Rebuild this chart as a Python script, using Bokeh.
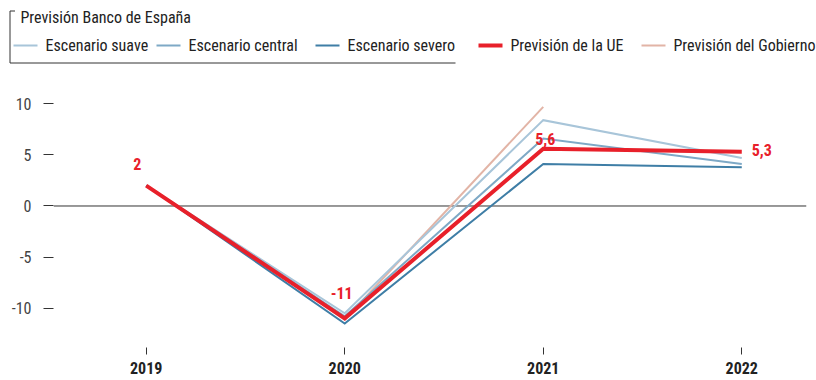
from bokeh.plotting import figure
from bokeh.layouts import column
from bokeh.models import Range1d, FixedTicker, Span, ColumnDataSource
from bokeh.core.properties import value
from bokeh.embed import file_html
from bokeh.resources import INLINE

# ---- data ----
years = [2019, 2020, 2021, 2022]
suave = [2, -10.5, 8.4, 4.7]
central = [2, -10.8, 6.6, 4.1]
severo = [2, -11.5, 4.1, 3.8]
ue = [2, -11, 5.6, 5.3]
gob_years = [2020, 2021]
gobierno = [-11.1, 9.7]
y_ticks = [-10, -5, 0, 5, 10]
x_ticks = [2019, 2020, 2021, 2022]
group_title = "Previsión Banco de España"
series_names = ["Escenario suave", "Escenario central", "Escenario severo",
                "Previsión de la UE", "Previsión del Gobierno"]

# ---- style ----
FONT = "'Liberation Sans Narrow', 'Roboto Condensed', Roboto, sans-serif"
C_SUAVE = "#a8c5d9"
C_CENTRAL = "#7ea9c6"
C_SEVERO = "#3f7ea6"
C_UE = "#e8202a"
C_GOB = "#e2b4a6"
TXT = "#222222"

W = 816
LEG_H = 70
CH_H = 380 - LEG_H

# ---------------- legend strip (pixel space) ----------------
leg = figure(width=W, height=LEG_H, x_range=Range1d(0, W), y_range=Range1d(LEG_H, 0),
             output_backend="svg", toolbar_location=None,
             min_border_left=0, min_border_right=0, min_border_top=0, min_border_bottom=0,
             x_axis_location=None, y_axis_location=None)
leg.frame_align = False
leg.outline_line_color = None
leg.xgrid.visible = False
leg.ygrid.visible = False

# bracket around the Banco de España group
leg.segment(x0=[9.5, 9.5, 9.5], y0=[10.5, 10.5, 62.5], x1=[9.5, 14.5, 455],
            y1=[62.5, 10.5, 62.5], line_color="#333333", line_width=1)
leg.text(x=[20], y=[17], text=[group_title], text_font=value(FONT),
         text_font_size="16px", text_color=TXT, text_baseline="middle",
         text_align="left")

item_x = [13, 156, 315, 478, 641]
item_colors = [C_SUAVE, C_CENTRAL, C_SEVERO, C_UE, C_GOB]
item_widths = [2, 2, 2, 4, 2]
leg.segment(x0=item_x, y0=[45] * 5, x1=[x + 24 for x in item_x], y1=[45] * 5,
            line_color=item_colors, line_width=item_widths)
leg.text(x=[x + 32 for x in item_x], y=[45] * 5, text=series_names,
         text_font=value(FONT), text_font_size="16px", text_color=TXT,
         text_baseline="middle", text_align="left")

# ---------------- chart ----------------
FL, FR, FB = 53, 806, 277   # frame edges inside the chart figure
p = figure(width=W, height=CH_H, x_range=Range1d(2018.533, 2022.326),
           y_range=Range1d(-13.85, 13.26), output_backend="svg",
           toolbar_location=None, min_border_left=FL, min_border_right=W - FR,
           min_border_top=0, min_border_bottom=CH_H - FB)
p.frame_align = False
p.outline_line_color = None
p.xgrid.visible = False
p.ygrid.visible = False

p.yaxis.ticker = FixedTicker(ticks=y_ticks)
p.yaxis.major_label_overrides = {t: str(t) for t in y_ticks}
p.xaxis.ticker = FixedTicker(ticks=x_ticks)
for ax in (p.xaxis, p.yaxis):
    ax.axis_line_color = None
    ax.minor_tick_line_color = None
    ax.major_tick_line_color = "#333333"
    ax.major_tick_in = 0
    ax.major_label_text_font = FONT
    ax.major_label_text_font_size = "16px"
p.yaxis.major_tick_out = 10
p.yaxis.major_label_standoff = 12
p.yaxis.major_label_text_color = "#444444"
p.xaxis.major_tick_out = 7
p.xaxis.major_label_standoff = 7
p.xaxis.major_label_text_color = TXT
p.xaxis.major_label_text_font_style = "bold"

p.add_layout(Span(location=0, dimension="width", line_color="#333333",
                  line_width=1, level="underlay"))

p.line(gob_years, gobierno, line_color=C_GOB, line_width=2, line_join="miter")
p.line(years, suave, line_color=C_SUAVE, line_width=2, line_join="miter")
p.line(years, central, line_color=C_CENTRAL, line_width=2, line_join="miter")
p.line(years, severo, line_color=C_SEVERO, line_width=2, line_join="miter")
p.line(years, ue, line_color=C_UE, line_width=4, line_join="miter")

lab_src = ColumnDataSource(dict(
    x=years, y=ue,
    t=[f"{v:g}".replace(".", ",") for v in ue],
    dx=[-9, -3, 2, 20], dy=[-22, -25, -10, -2],
))
p.text(x="x", y="y", text="t", x_offset="dx", y_offset="dy", source=lab_src,
       text_align="center", text_baseline="middle", text_color=C_UE,
       text_font=value(FONT), text_font_size="16px", text_font_style="bold")

layout = column(leg, p, spacing=0)
open("out.html", "w").write(file_html(layout, INLINE))
